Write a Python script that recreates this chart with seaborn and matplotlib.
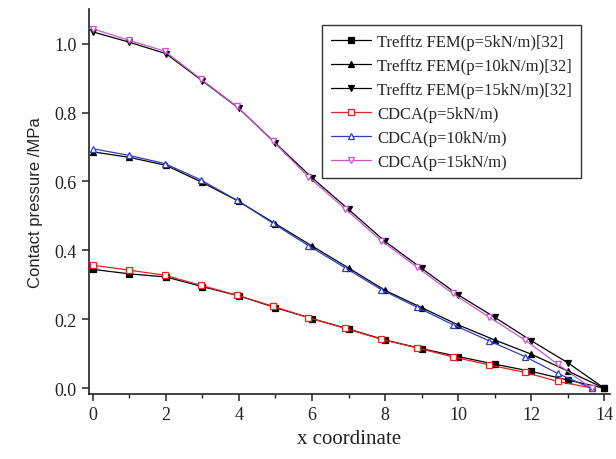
import numpy as np
import pandas as pd
import seaborn as sns
import matplotlib.pyplot as plt
from matplotlib.ticker import MultipleLocator

# x positions
x_fem = [0, 1, 2, 3, 4, 5, 6, 7, 8, 9, 10, 11, 12, 13, 14]
x_cdca = [0, 0.98, 1.97, 2.95, 3.94, 4.93, 5.9, 6.9, 7.9, 8.88, 9.85, 10.84, 11.83, 12.72, 13.65]

# Trefftz FEM [32]
fem_5 = [0.345, 0.332, 0.323, 0.295, 0.268, 0.234, 0.202, 0.172, 0.140, 0.115, 0.092, 0.070, 0.049, 0.024, 0.0]
fem_10 = [0.686, 0.670, 0.647, 0.597, 0.542, 0.477, 0.413, 0.349, 0.284, 0.234, 0.184, 0.140, 0.099, 0.050, 0.0]
fem_15 = [1.034, 1.004, 0.971, 0.892, 0.812, 0.711, 0.611, 0.519, 0.426, 0.348, 0.271, 0.206, 0.138, 0.074, 0.0]

# CDCA
cdca_5 = [0.357, 0.343, 0.328, 0.299, 0.270, 0.238, 0.205, 0.174, 0.142, 0.117, 0.091, 0.068, 0.046, 0.020, 0.001]
cdca_10 = [0.695, 0.676, 0.652, 0.605, 0.546, 0.479, 0.414, 0.350, 0.286, 0.235, 0.185, 0.138, 0.092, 0.043, 0.0]
cdca_15 = [1.043, 1.010, 0.978, 0.898, 0.818, 0.717, 0.614, 0.521, 0.428, 0.351, 0.275, 0.207, 0.140, 0.070, 0.0]

labels = ['Trefftz FEM(p=5kN/m)[32]', 'Trefftz FEM(p=10kN/m)[32]', 'Trefftz FEM(p=15kN/m)[32]',
          'CDCA(p=5kN/m)', 'CDCA(p=10kN/m)', 'CDCA(p=15kN/m)']

sns.set_style("ticks")
plt.rcParams['font.family'] = ['Liberation Serif', 'DejaVu Serif']

fig = plt.figure(figsize=(6.16, 4.6), dpi=100)
ax = fig.add_axes([0.144, 0.141, 0.846, 0.837])

series = [
    (x_fem, fem_5, labels[0], 'black', 's', 'black'),
    (x_fem, fem_10, labels[1], 'black', '^', 'black'),
    (x_fem, fem_15, labels[2], 'black', 'v', 'black'),
    (x_cdca, cdca_5, labels[3], '#e8231e', 's', 'white'),
    (x_cdca, cdca_10, labels[4], '#2d3fbf', '^', 'white'),
    (x_cdca, cdca_15, labels[5], '#cc55cc', 'v', 'white'),
]

for xs, ys, lab, col, mk, fc in series:
    df = pd.DataFrame({'x': xs, 'y': ys})
    sns.lineplot(data=df, x='x', y='y', ax=ax, color=col, linewidth=0.9,
                 marker=mk, markersize=4.5, markerfacecolor=fc,
                 markeredgecolor=col, markeredgewidth=0.9, label=lab)

ax.set_xlim(-0.11, 14.15)
ax.set_ylim(-0.017, 1.1)
ax.xaxis.set_major_locator(MultipleLocator(2))
ax.xaxis.set_minor_locator(MultipleLocator(1))
ax.yaxis.set_major_locator(MultipleLocator(0.2))
ax.yaxis.set_major_formatter(plt.FormatStrFormatter('%.1f'))

for side in ['top', 'right']:
    ax.spines[side].set_visible(False)
for side in ['left', 'bottom']:
    ax.spines[side].set_linewidth(1.2)
    ax.spines[side].set_color('#222222')

ax.tick_params(axis='both', which='major', direction='out', length=5, width=1.1,
               labelsize=13, colors='#222222')
ax.tick_params(axis='x', which='minor', direction='out', length=3, width=1.0, colors='#222222')

ax.set_xlabel('x coordinate', fontsize=15, color='#222222')
ax.set_ylabel('Contact pressure /MPa', fontsize=12, family=['Liberation Sans', 'DejaVu Sans'],
              color='#222222', labelpad=8)

leg = ax.legend(loc='upper right', bbox_to_anchor=(589 / 616, 1 - 18 / 460),
                bbox_transform=fig.transFigure, fontsize=12, frameon=True,
                fancybox=False, edgecolor='#333333', framealpha=1,
                handlelength=2.4, labelspacing=0.48, borderpad=0.5, handletextpad=0.4)
leg.get_frame().set_linewidth(1.0)

fig.savefig('out.png', dpi=100)
